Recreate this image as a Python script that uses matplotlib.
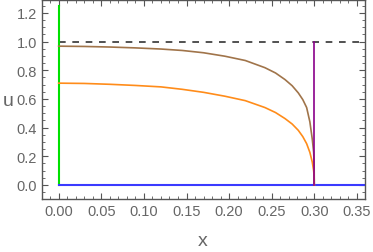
import numpy as np
import matplotlib
matplotlib.use("Agg")
import matplotlib.pyplot as plt
from matplotlib.ticker import MultipleLocator

# values
x_pts = [0.0, 0.03, 0.06, 0.09, 0.12, 0.145, 0.17, 0.195, 0.219, 0.242,
         0.2545, 0.2656, 0.274, 0.2812, 0.2865, 0.291, 0.2948, 0.2976,
         0.2992, 0.2998, 0.30]
u_brown = [0.968, 0.966, 0.962, 0.956, 0.948, 0.938, 0.922, 0.898, 0.868,
           0.818, 0.781, 0.735, 0.692, 0.642, 0.595, 0.54, 0.44, 0.32,
           0.23, 0.15, 0.0]
u_orange = [0.71, 0.708, 0.702, 0.694, 0.684, 0.667, 0.646, 0.619, 0.588,
            0.540, 0.505, 0.463, 0.425, 0.381, 0.337, 0.288, 0.227, 0.16,
            0.10, 0.06, 0.0]
x_front = 0.30
x_end = 0.36
u_green_top = 1.25
u_ref = 1.0

x_ticks = [0.00, 0.05, 0.10, 0.15, 0.20, 0.25, 0.30, 0.35]
y_ticks = [0.0, 0.2, 0.4, 0.6, 0.8, 1.0, 1.2]

plt.rcParams['font.family'] = ['Liberation Sans', 'DejaVu Sans']

fig = plt.figure(figsize=(3.73, 2.53), dpi=100)
ax = fig.add_axes([42 / 373, 53 / 253, 323 / 373, 199 / 253])

ax.plot([0, x_end], [u_ref, u_ref], color='#333333', lw=1.2, dashes=(4, 4))
ax.plot([0, 0], [0, u_green_top], color='#00e000', lw=1.5)
ax.plot([0, x_end], [0, 0], color='#3a3aff', lw=1.5)
ax.plot(x_pts, u_brown, color='#a0744a', lw=1.2)
ax.plot(x_pts, u_orange, color='#ff8c1a', lw=1.2)
ax.plot([x_front, x_front], [0, u_ref], color='#8a008a', lw=1.2)

ax.set_xlim(-0.0196, 0.3595)
ax.set_ylim(-0.098, 1.29)
ax.set_xticks(x_ticks)
ax.set_yticks(y_ticks)
ax.set_xticklabels(['%.2f' % t for t in x_ticks])
ax.set_yticklabels(['%.1f' % t for t in y_ticks])
ax.xaxis.set_minor_locator(MultipleLocator(0.01))
ax.yaxis.set_minor_locator(MultipleLocator(0.05))
ax.tick_params(which='both', direction='in', top=True, right=True,
               color='#555555', labelcolor='#666666', labelsize=10.5)
ax.tick_params(which='major', length=4, width=0.8)
ax.tick_params(which='minor', length=2, width=0.6)
for s in ax.spines.values():
    s.set_color('#555555')
    s.set_linewidth(1.0)

fig.text(203 / 373, 1 - 242 / 253, 'x', ha='center', va='center',
         fontsize=14, color='#666666')
fig.text(8 / 373, 1 - 102 / 253, 'u', ha='center', va='center',
         fontsize=14, color='#666666')

fig.savefig('out.png', dpi=100)
